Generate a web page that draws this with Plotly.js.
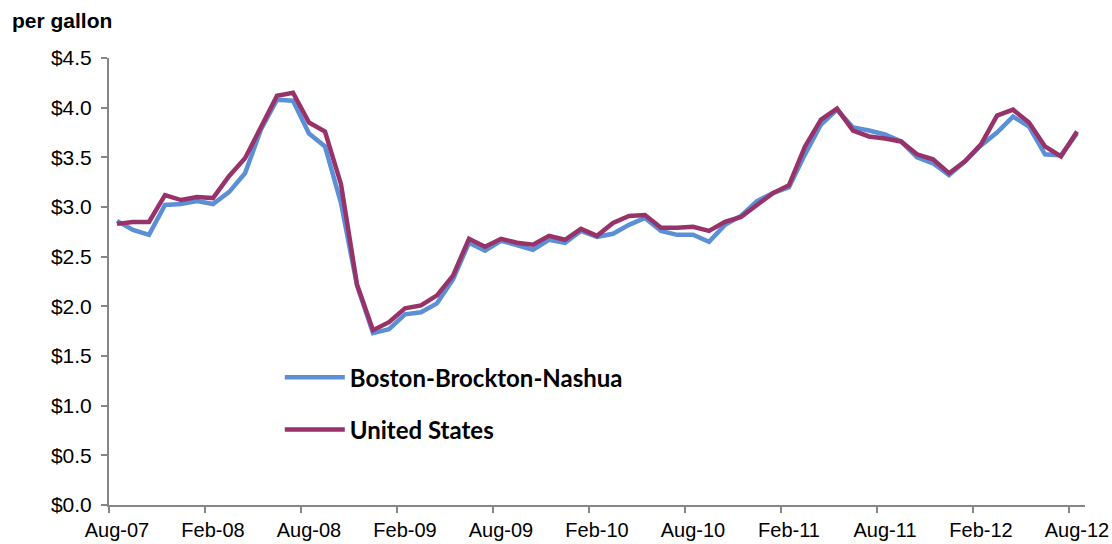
<!DOCTYPE html>
<html>
<head>
<meta charset="utf-8">
<script src="https://cdn.plot.ly/plotly-3.0.1.min.js"></script>
<style>
  html, body { margin: 0; padding: 0; background: #fff; }
  #chart { width: 1112px; height: 544px; }
</style>
</head>
<body>
<div id="chart"></div>
<script>
const months = [
  "Aug-07","Sep-07","Oct-07","Nov-07","Dec-07","Jan-08","Feb-08","Mar-08","Apr-08","May-08","Jun-08","Jul-08",
  "Aug-08","Sep-08","Oct-08","Nov-08","Dec-08","Jan-09","Feb-09","Mar-09","Apr-09","May-09","Jun-09","Jul-09",
  "Aug-09","Sep-09","Oct-09","Nov-09","Dec-09","Jan-10","Feb-10","Mar-10","Apr-10","May-10","Jun-10","Jul-10",
  "Aug-10","Sep-10","Oct-10","Nov-10","Dec-10","Jan-11","Feb-11","Mar-11","Apr-11","May-11","Jun-11","Jul-11",
  "Aug-11","Sep-11","Oct-11","Nov-11","Dec-11","Jan-12","Feb-12","Mar-12","Apr-12","May-12","Jun-12","Jul-12",
  "Aug-12"
];

const boston = [
  2.86, 2.77, 2.72, 3.02, 3.03, 3.06, 3.03, 3.15, 3.34, 3.78, 4.08, 4.07,
  3.74, 3.61, 3.04, 2.21, 1.73, 1.77, 1.92, 1.94, 2.03, 2.27, 2.64, 2.56,
  2.66, 2.61, 2.57, 2.67, 2.64, 2.76, 2.70, 2.73, 2.82, 2.89, 2.76, 2.72,
  2.72, 2.65, 2.82, 2.91, 3.06, 3.14, 3.20, 3.53, 3.83, 3.98, 3.80, 3.77,
  3.73, 3.66, 3.50, 3.44, 3.32, 3.46, 3.62, 3.75, 3.91, 3.81, 3.53, 3.52,
  3.74
];

const unitedStates = [
  2.83, 2.85, 2.85, 3.12, 3.07, 3.10, 3.09, 3.31, 3.49, 3.81, 4.12, 4.15,
  3.85, 3.76, 3.23, 2.22, 1.76, 1.84, 1.98, 2.01, 2.11, 2.31, 2.68, 2.60,
  2.68, 2.64, 2.62, 2.71, 2.67, 2.78, 2.71, 2.84, 2.91, 2.92, 2.79, 2.79,
  2.80, 2.76, 2.85, 2.90, 3.02, 3.14, 3.22, 3.61, 3.88, 3.99, 3.77, 3.71,
  3.69, 3.66, 3.53, 3.48, 3.34, 3.46, 3.63, 3.92, 3.98, 3.85, 3.61, 3.51,
  3.76
];

const yTickVals = [0, 0.5, 1, 1.5, 2, 2.5, 3, 3.5, 4, 4.5];
const yTickText = ["$0.0","$0.5","$1.0","$1.5","$2.0","$2.5","$3.0","$3.5","$4.0","$4.5"];

const traces = [
  {
    x: months, y: boston, type: "scatter", mode: "lines",
    name: "Boston-Brockton-Nashua", legendgroup: "a",
    line: { color: "#5B8FD6", width: 4.5 }
  },
  {
    x: months, y: unitedStates, type: "scatter", mode: "lines",
    name: "United States", legendgroup: "b",
    line: { color: "#98336A", width: 4.5 }
  }
];

const layout = {
  width: 1112, height: 544,
  paper_bgcolor: "#ffffff", plot_bgcolor: "#ffffff",
  margin: { l: 109, r: 27, t: 58, b: 39 },
  font: { family: "Liberation Sans, Arial, sans-serif", color: "#000000", size: 20 },
  showlegend: true,
  legend: {
    x: 0.175, y: 0.335, xanchor: "left", yanchor: "top",
    bgcolor: "rgba(0,0,0,0)", borderwidth: 0,
    traceorder: "grouped", tracegroupgap: 18,
    itemwidth: 60,
    font: { family: "Lato, Noto Sans, sans-serif", size: 24, color: "#000", weight: "bold" }
  },
  annotations: [
    {
      text: "<b>per gallon</b>", xref: "paper", yref: "paper",
      x: -99/976, y: 1 + 37/446, xanchor: "left", yanchor: "middle",
      showarrow: false,
      font: { family: "Liberation Sans, Arial, sans-serif", size: 21, color: "#000" }
    }
  ],
  xaxis: {
    type: "category",
    range: [-0.5, 60.5],
    tickmode: "linear", tick0: 0, dtick: 6,
    tickson: "boundaries",
    tickangle: 0,
    ticks: "outside", ticklen: 6, tickwidth: 2, tickcolor: "#868686",
    showline: true, linecolor: "#868686", linewidth: 2,
    showgrid: false, zeroline: false,
    tickfont: { size: 20 },
    ticklabelstandoff: 6,
    automargin: false
  },
  yaxis: {
    range: [0, 4.5],
    tickmode: "array", tickvals: yTickVals, ticktext: yTickText,
    ticks: "outside", ticklen: 6, tickwidth: 2, tickcolor: "#868686",
    showline: true, linecolor: "#868686", linewidth: 2,
    showgrid: false, zeroline: false,
    tickfont: { size: 21 },
    ticklabelstandoff: 5,
    automargin: false
  }
};

Plotly.newPlot("chart", traces, layout, { displayModeBar: false, staticPlot: true });
</script>
</body>
</html>
